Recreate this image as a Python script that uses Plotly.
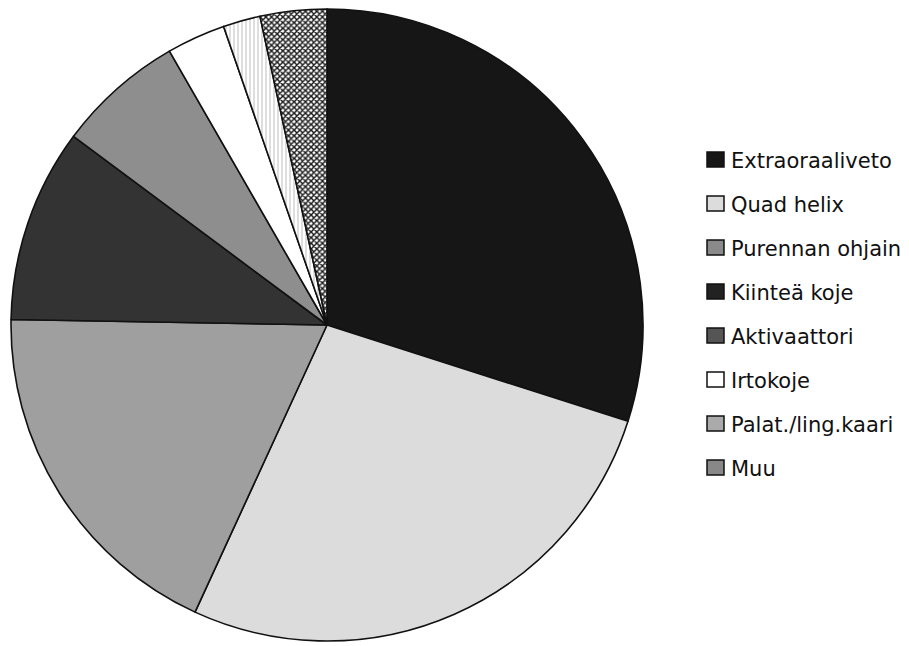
import plotly.graph_objects as go

# Share of appliance types (percent)
labels = ["Extraoraaliveto", "Quad helix", "Purennan ohjain", "Kiinteä koje",
          "Aktivaattori", "Irtokoje", "Palat./ling.kaari", "Muu"]
values = [29.9, 26.9, 18.4, 9.9, 6.5, 3.0, 1.9, 3.4]

colors = ["#161616", "#dcdcdc", "#9f9f9f", "#333333",
          "#8e8e8e", "#ffffff", "#a8a8a8", "#ffffff"]
pattern_shapes = ["", "", "", "", "", "", "|", "x"]
pattern_fg = ["#000", "#000", "#000", "#000", "#000", "#000", "#bdbdbd", "#1a1a1a"]
pattern_solid = [0.3, 0.3, 0.3, 0.3, 0.3, 0.3, 0.25, 0.6]
legend_fill = ["#161616", "#dcdcdc", "#8a8a8a", "#222222",
               "#555555", "#ffffff", "#aaaaaa", "#888888"]

W, H = 909, 646

fig = go.Figure()
fig.add_trace(go.Pie(
    labels=labels,
    values=values,
    sort=False,
    direction="clockwise",
    rotation=0,
    textinfo="none",
    hoverinfo="label+percent",
    showlegend=False,
    marker=dict(
        colors=colors,
        line=dict(color="#111111", width=1.6),
        pattern=dict(shape=pattern_shapes, fgcolor=pattern_fg,
                     size=4, solidity=pattern_solid),
    ),
    domain=dict(x=[11 / W, 643 / W], y=[1 - 641 / H, 1 - 9 / H]),
))

# Legend drawn as boxes and labels
y0, step = 159, 44
shapes, annotations = [], []
for i, (lab, fc) in enumerate(zip(labels, legend_fill)):
    yc = y0 + i * step
    shapes.append(dict(type="rect", xref="paper", yref="paper",
                       x0=707 / W, x1=724 / W,
                       y0=1 - (yc + 8) / H, y1=1 - (yc - 7) / H,
                       fillcolor=fc, line=dict(color="#111111", width=1.5)))
    annotations.append(dict(text=lab, xref="paper", yref="paper",
                            x=729 / W, y=1 - (yc + 2) / H, xanchor="left",
                            yanchor="middle", showarrow=False,
                            font=dict(family="DejaVu Sans", size=21,
                                      color="#111111")))

fig.update_layout(
    width=W, height=H,
    margin=dict(l=0, r=0, t=0, b=0),
    paper_bgcolor="white",
    plot_bgcolor="white",
    shapes=shapes,
    annotations=annotations,
)

fig.write_html("out.html")
